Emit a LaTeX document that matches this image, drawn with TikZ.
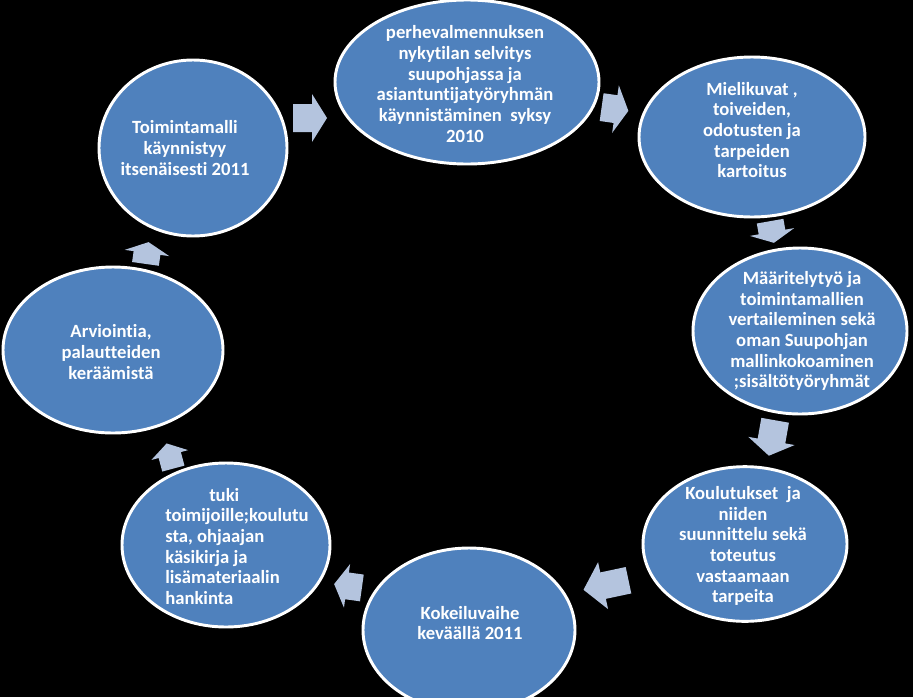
\documentclass[tikz,border=0pt]{standalone}
\usepackage{fontspec}
\setmainfont{Carlito}[Ligatures={NoCommon,TeX}]
\usetikzlibrary{shapes.geometric}
\definecolor{ellfill}{RGB}{79,129,189}
\definecolor{arrfill}{RGB}{180,196,222}
\tikzset{
  ell/.style={ellipse, draw=white, line width=2.2pt, fill=ellfill, inner sep=0pt},
  txt/.style={text=white, font=\bfseries\fontsize{14}{15.5}\selectfont, align=center, inner sep=0pt},
  pics/barrow/.style n args={4}{code={
    \fill[arrfill] (-#1/2,-#3/2) -- (#1/2-#4,-#3/2) -- (#1/2-#4,-#2/2) -- (#1/2,0)
      -- (#1/2-#4,#2/2) -- (#1/2-#4,#3/2) -- (-#1/2,#3/2) -- cycle;}}
}
\begin{document}
\begin{tikzpicture}[x=0.75pt,y=-0.75pt]
\fill[black] (0,0) rectangle (913,697);
\useasboundingbox (0,0) rectangle (913,697);
\clip (0,0) rectangle (913,697);
% ellipses
\node[ell, minimum width=198pt, minimum height=123pt] (e1) at (467,82) {};
\node[ell, minimum width=169.5pt, minimum height=120pt] (e2) at (752,137) {};
\node[ell, minimum width=160.5pt, minimum height=124.5pt] (e3) at (800,331) {};
\node[ell, minimum width=153pt, minimum height=116pt] (e4) at (745,544) {};
\node[ell, minimum width=159pt, minimum height=123pt] (e5) at (469,630) {};
\node[ell, minimum width=156pt, minimum height=123pt] (e6) at (226,545) {};
\node[ell, minimum width=165pt, minimum height=124.5pt] (e7) at (113,350) {};
\node[ell, minimum width=141pt, minimum height=132pt] (e8) at (193,148) {};
% texts
\node[txt] (t1) at (465,84) {perhevalmennuksen\\nykytilan selvitys\\suupohjassa ja\\asiantuntijatyöryhmän\\käynnistäminen\ \ syksy\\2010};
\node[txt] (t2) at (752,130) {Mielikuvat ,\\toiveiden,\\odotusten ja\\tarpeiden\\kartoitus};
\node[txt] (t3) at (802,331) {Määritelytyö ja\\toimintamallien\\vertaileminen sekä\\oman Suupohjan\\mallinkokoaminen\\;sisältötyöryhmät};
\node[txt] (t4) at (743,546) {Koulutukset\ \ ja\\niiden\\suunnittelu sekä\\toteutus\\vastaamaan\\tarpeita};
\node[txt] (t5) at (470,623) {Kokeiluvaihe\\keväällä 2011};
\node[txt, align=left, anchor=west] (t6) at (165,546.5) {\hspace*{33pt}tuki\\toimijoille;koulutu\\sta, ohjaajan\\käsikirja ja\\lisämateriaalin\\hankinta};
\node[txt] (t7) at (111,352) {Arviointia,\\palautteiden\\keräämistä};
\node[txt] (t8) at (185,148) {Toimintamalli\\käynnistyy\\itsenäisesti 2011};
% block arrows
\pic[rotate=0]   (a1) at (310,118) {barrow={34}{48}{28}{15}};
\pic[rotate=-8]  (a2) at (615,109) {barrow={27}{48}{28}{13}};
\pic[rotate=-80] (a3) at (772,232) {barrow={22}{45}{27}{11}};
\pic[rotate=-100](a4) at (772,438) {barrow={36}{47}{28}{15}};
\pic[rotate=192] (a5) at (606,585) {barrow={46}{48}{27}{20}};
\pic[rotate=172] (a6) at (348,586) {barrow={28}{44}{27}{13}};
\pic[rotate=105] (a7) at (170,456) {barrow={26}{38}{23}{12}};
\pic[rotate=82]  (a8) at (147,253) {barrow={22}{45}{27}{11}};
\end{tikzpicture}
\end{document}
